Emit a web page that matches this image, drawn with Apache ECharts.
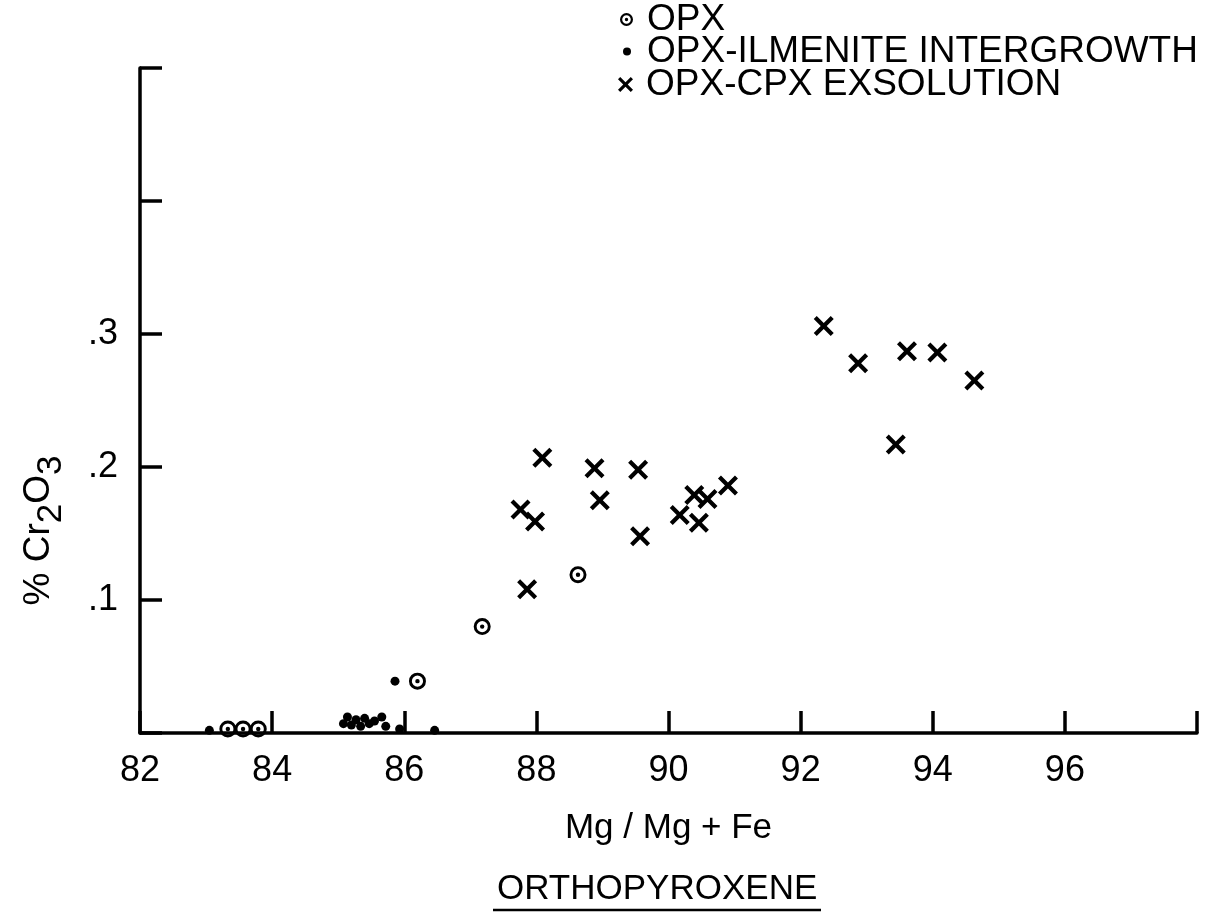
<!DOCTYPE html>
<html>
<head>
<meta charset="utf-8">
<script src="https://cdn.jsdelivr.net/npm/echarts@6/dist/echarts.min.js"></script>
<style>
html,body{margin:0;padding:0;background:#fff;}
#chart{width:1212px;height:920px;}
</style>
</head>
<body>
<div id="chart"></div>
<script>
// ---- data ----
const xTickLabels = ['82','84','86','88','90','92','94','96',''];
const yTickLabels = ['', '.1', '.2', '.3', '', ''];
const seriesNames = ['OPX', 'OPX-ILMENITE INTERGROWTH', 'OPX-CPX EXSOLUTION'];

// OPX (circle with centre dot)  [Mg/Mg+Fe, %Cr2O3]
const opx = [
  [83.33, 0.003], [83.56, 0.003], [83.79, 0.003],
  [86.20, 0.039], [87.18, 0.080], [88.63, 0.119]
];
// OPX-ilmenite intergrowth (dots)
const ilmenite = [
  [83.05, 0.002], [85.08, 0.007], [85.14, 0.012], [85.20, 0.006],
  [85.27, 0.010], [85.34, 0.005], [85.40, 0.011], [85.47, 0.007],
  [85.55, 0.009], [85.66, 0.012], [85.72, 0.005], [85.86, 0.039],
  [85.93, 0.003], [86.46, 0.002]
];
// OPX-CPX exsolution (crosses)
const exsolution = [
  [87.76, 0.168], [87.86, 0.108], [87.98, 0.159], [88.09, 0.207],
  [88.88, 0.199], [88.96, 0.175], [89.54, 0.198], [89.57, 0.148],
  [90.17, 0.164], [90.39, 0.179], [90.46, 0.158], [90.59, 0.176],
  [90.90, 0.186], [92.35, 0.306], [92.87, 0.278], [93.44, 0.217],
  [93.61, 0.287], [94.07, 0.286], [94.63, 0.265]
];

// ---- styling ----
const FONT = '"Liberation Sans", Arial, sans-serif';
const INK = '#000';
const ringPath = 'path://M10,0 A10,10 0 1,1 10,20 A10,10 0 1,1 10,0 Z M10,3.4 A6.6,6.6 0 1,0 10,16.6 A6.6,6.6 0 1,0 10,3.4 Z M10,7.4 A2.6,2.6 0 1,1 10,12.6 A2.6,2.6 0 1,1 10,7.4 Z';
const crossPath = 'path://M3,0 L10,7 L17,0 L20,3 L13,10 L20,17 L17,20 L10,13 L3,20 L0,17 L7,10 L0,3 Z';

const legendText = { fontSize: 37, fontFamily: FONT, color: INK, lineHeight: 34 };

const chart = echarts.init(document.getElementById('chart'), null, { renderer: 'canvas' });
chart.setOption({
  backgroundColor: '#fff',
  animation: false,
  title: {
    text: 'ORTHOPYROXENE',
    left: 497, top: 872, padding: 0,
    textStyle: { fontSize: 35, fontWeight: 'normal', fontFamily: FONT, color: INK }
  },
  graphic: [{
    type: 'line',
    shape: { x1: 493, y1: 910, x2: 821, y2: 910 },
    style: { stroke: INK, lineWidth: 2.5 }
  }],
  legend: [
    { data: [{ name: seriesNames[0], icon: ringPath }], left: 615, top: -4, itemWidth: 13, itemHeight: 13,
      selectedMode: false, textStyle: Object.assign({ padding: [0, 0, 0, 9] }, legendText) },
    { data: [{ name: seriesNames[1], icon: 'circle' }], left: 618, top: 28, itemWidth: 8, itemHeight: 8,
      selectedMode: false, textStyle: Object.assign({ padding: [0, 0, 0, 11] }, legendText) },
    { data: [{ name: seriesNames[2], icon: crossPath }], left: 613, top: 61, itemWidth: 15, itemHeight: 15,
      selectedMode: false, textStyle: Object.assign({ padding: [0, 0, 0, 8] }, legendText) }
  ],
  grid: { left: 140, right: 15, top: 68, bottom: 187, containLabel: false, outerBoundsMode: 'none' },
  xAxis: {
    type: 'value', min: 82, max: 98, interval: 2,
    name: 'Mg / Mg + Fe', nameLocation: 'middle', nameGap: 78,
    nameTextStyle: { fontSize: 35, fontFamily: FONT, color: INK, lineHeight: 34 },
    axisLine: { show: true, onZero: false, lineStyle: { color: INK, width: 3.5 } },
    axisTick: { show: true, inside: true, length: 22, lineStyle: { color: INK, width: 3.5 } },
    axisLabel: { margin: 20, fontSize: 36, fontFamily: FONT, color: INK,
      formatter: (v, i) => xTickLabels[i] },
    splitLine: { show: false }
  },
  yAxis: {
    type: 'value', min: 0, max: 0.5, interval: 0.1,
    name: '{a|% Cr}{s|2}{a|O}{s|3}', nameLocation: 'middle', nameRotate: 90, nameGap: 80,
    nameTextStyle: {
      padding: [0, 260, 0, 0],
      rich: {
        a: { fontSize: 37, fontFamily: FONT, color: INK, lineHeight: 40, verticalAlign: 'top' },
        s: { fontSize: 35, fontFamily: FONT, color: INK, lineHeight: 40, verticalAlign: 'top', padding: [14, 0, 0, 0] }
      }
    },
    axisLine: { show: true, onZero: false, lineStyle: { color: INK, width: 3.5 } },
    axisTick: { show: true, inside: true, length: 22, lineStyle: { color: INK, width: 3.5 } },
    axisLabel: { margin: 22, fontSize: 36, fontFamily: FONT, color: INK,
      formatter: (v, i) => yTickLabels[i] },
    splitLine: { show: false }
  },
  series: [
    { name: seriesNames[0], type: 'scatter', data: opx, symbol: ringPath, symbolSize: 17,
      itemStyle: { color: INK, opacity: 1 }, z: 3 },
    { name: seriesNames[1], type: 'scatter', data: ilmenite, symbol: 'circle', symbolSize: 9,
      itemStyle: { color: INK, opacity: 1 }, z: 4 },
    { name: seriesNames[2], type: 'scatter', data: exsolution, symbol: crossPath, symbolSize: 20,
      itemStyle: { color: INK, opacity: 1 }, z: 3 }
  ]
});
</script>
</body>
</html>
